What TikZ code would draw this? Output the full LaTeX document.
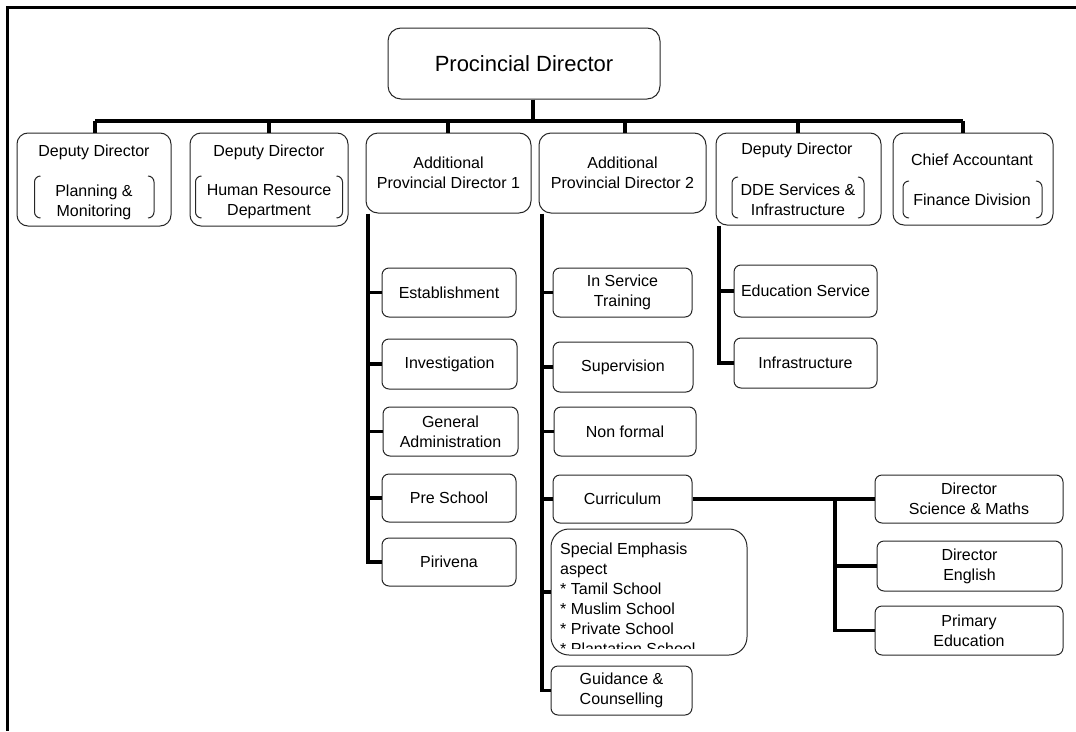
\documentclass[tikz,border=0pt]{standalone}
\usepackage{fontspec}
\setmainfont{Liberation Sans}
\newcommand\myfs{\fontsize{16}{20}\selectfont}
\newcommand\mybig{\fontsize{22}{26}\selectfont}
\begin{document}
\begin{tikzpicture}[x=1pt,y=-1pt,
  box/.style={draw=black!85,line width=1pt,rounded corners=#1,inner sep=0pt,align=center,font=\myfs},
  box/.default=8pt,
  txt/.style={inner sep=0pt,align=center,font=\myfs},
  brk/.style={draw=black!85,line width=1pt,rounded corners=6pt},
  conn/.style={line width=3.3pt,line join=miter,black}]
\useasboundingbox (0,0) rectangle (1076,731);
% frame
\draw[line width=3pt] (1076,7) -- (7,7) -- (7,731);
% top
\node[box=13pt,minimum width=272pt,minimum height=71pt,font=\mybig] (top) at (524,63.5) {Procincial Director};
% level 2
\node[box=11pt,minimum width=154pt,minimum height=93pt] (dd1) at (94,179.5) {};
\node[txt] (dd1t) at (94,152) {Deputy Director};
\node[txt] (dd1s) at (94,202) {Planning \&\\Monitoring};
\draw[brk] (40.5,176) -- (34.5,176) -- (34.5,218) -- (40.5,218);
\draw[brk] (148,176) -- (154,176) -- (154,218) -- (148,218);

\node[box=11pt,minimum width=158pt,minimum height=93pt] (dd2) at (269,179.5) {};
\node[txt] (dd2t) at (269,152) {Deputy Director};
\node[txt] (dd2s) at (269,202) {Human Resource\\Department};
\draw[brk] (201.5,176) -- (195.5,176) -- (195.5,218) -- (201.5,218);
\draw[brk] (336.5,176) -- (342.5,176) -- (342.5,218) -- (336.5,218);

\node[box=12pt,minimum width=165pt,minimum height=80pt] (apd1) at (448.5,173) {Additional\\Provincial Director 1};
\node[box=12pt,minimum width=167pt,minimum height=80pt] (apd2) at (622.5,173) {Additional\\Provincial Director 2};

\node[box=11pt,minimum width=165pt,minimum height=92pt] (dd3) at (798.5,179) {};
\node[txt] (dd3t) at (797,150) {Deputy Director};
\node[txt] (dd3s) at (798,200) {DDE Services \&\\Infrastructure};
\draw[brk] (738,177) -- (732,177) -- (732,218) -- (738,218);
\draw[brk] (858,177) -- (864,177) -- (864,218) -- (858,218);

\node[box=11pt,minimum width=160pt,minimum height=92pt] (ca) at (973,179) {};
\node[txt] (cat) at (972,160) {Chief Accountant};
\node[txt] (cas) at (972,200) {Finance Division};
\draw[brk] (909,181) -- (903,181) -- (903,218) -- (909,218);
\draw[brk] (1036,181) -- (1042,181) -- (1042,218) -- (1036,218);

% bus
\coordinate (b1) at (95,121);
\coordinate (b2) at (269,121);
\coordinate (b3) at (448,121);
\coordinate (b4) at (625,121);
\coordinate (b5) at (798,121);
\coordinate (b6) at (963,121);
\draw[conn] ([xshift=9pt]top.south) -- ([xshift=9pt]top.south |- b1);
\draw[conn] (b1) -- (b6);
\draw[conn] (b1) -- (b1 |- dd1.north);
\draw[conn] (b2) -- (b2 |- dd2.north);
\draw[conn] (b3) -- (b3 |- apd1.north);
\draw[conn] (b4) -- (b4 |- apd2.north);
\draw[conn] (b5) -- (b5 |- dd3.north);
\draw[conn] (b6) -- (b6 |- ca.north);

% APD1 column
\node[box=7pt,minimum width=134pt,minimum height=49pt] (est) at (449,292.5) {Establishment};
\node[box=7pt,minimum width=135pt,minimum height=50pt] (inv) at (449.5,364) {Investigation};
\node[box=7pt,minimum width=135pt,minimum height=49pt] (gen) at (450.5,431.5) {General\\Administration};
\node[box=7pt,minimum width=134pt,minimum height=48pt] (pre) at (449,498) {Pre School};
\node[box=7pt,minimum width=134pt,minimum height=48pt] (piri) at (449,562) {Pirivena};
\coordinate (v1) at (368,0);
\draw[conn] (v1 |- apd1.south) -- (v1 |- piri.west) -- (piri.west);
\foreach \n in {est,inv,gen,pre} \draw[conn] (v1 |- \n.west) -- (\n.west);

% APD2 column
\node[box=7pt,minimum width=139pt,minimum height=49pt] (ist) at (622.5,292.5) {In Service\\Training};
\node[box=7pt,minimum width=140pt,minimum height=50pt] (sup) at (623,367) {Supervision};
\node[box=7pt,minimum width=142pt,minimum height=49pt] (nonf) at (625,431.5) {Non formal};
\node[box=7pt,minimum width=139pt,minimum height=48pt] (curr) at (622.5,499) {Curriculum};
\node[box=18pt,minimum width=196pt,minimum height=126pt] (spec) at (649,592) {};
\begin{scope}
\clip (551,529) rectangle (747,648);
\node[inner sep=0pt,anchor=north west,align=left,font=\myfs] (spect) at (560,542.5) {Special Emphasis\\aspect\\* Tamil School\\* Muslim School\\* Private School\\* Plantation School};
\end{scope}
\node[box=7pt,minimum width=141pt,minimum height=49pt] (guid) at (621.5,690.5) {Guidance \&\\Counselling};
\coordinate (v2) at (542,0);
\draw[conn] (v2 |- apd2.south) -- (v2 |- guid.west) -- (guid.west);
\foreach \n in {ist,sup,nonf,curr,spec} \draw[conn] (v2 |- \n.west) -- (\n.west);

% DD3 column
\node[box=7pt,minimum width=143pt,minimum height=52pt] (edu) at (805.5,291) {Education Service};
\node[box=7pt,minimum width=143pt,minimum height=50pt] (inf) at (805.5,363) {Infrastructure};
\coordinate (v3) at (719,0);
\draw[conn] (v3 |- dd3.south) -- (v3 |- inf.west) -- (inf.west);
\draw[conn] (v3 |- edu.west) -- (edu.west);

% Curriculum branch
\node[box=7pt,minimum width=188pt,minimum height=48pt] (sci) at (969,499) {Director\\Science \& Maths};
\node[box=7pt,minimum width=185pt,minimum height=50pt] (eng) at (969.5,566) {Director\\English};
\node[box=7pt,minimum width=188pt,minimum height=49pt] (prim) at (969,630.5) {Primary\\Education};
\coordinate (v4) at (835,0);
\draw[conn] (curr.east) -- (sci.west);
\draw[conn] (v4 |- curr.east) -- (v4 |- prim.west) -- (prim.west);
\draw[conn] (v4 |- eng.west) -- (eng.west);
\end{tikzpicture}
\end{document}
